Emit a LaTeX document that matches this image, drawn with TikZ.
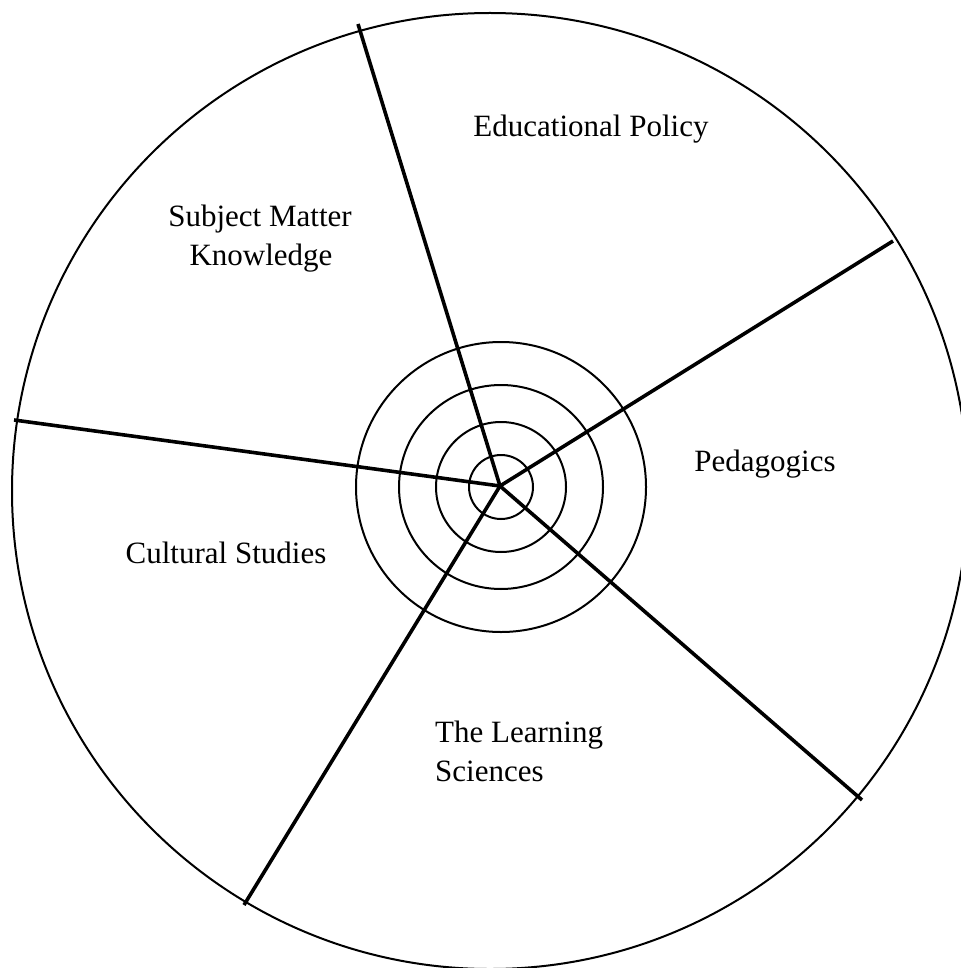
\documentclass[tikz,border=0pt]{standalone}
\usepackage{fontspec}
\setmainfont{Liberation Serif}
\begin{document}
\begin{tikzpicture}[x=1pt,y=-1pt,
  rim/.style={line width=2pt},
  ring/.style={line width=2pt},
  spoke/.style={line width=3.6pt},
  lbl/.style={font=\fontsize{31}{37}\selectfont, inner sep=0pt, anchor=base},
  lblw/.style={lbl, anchor=base west}]
\useasboundingbox (0,0) rectangle (960,968);
% outer wheel
\draw[rim] (490,491) circle[radius=478pt];
% hub and concentric rings
\coordinate (hub) at (500,486);
\coordinate (ringc) at (501,487);
\foreach \r in {32,65,102,145}
  \draw[ring] (ringc) circle[radius=\r pt];
% spoke ends on the rim
\coordinate (pTop) at (358,24);
\coordinate (pRight) at (893,241);
\coordinate (pLeft) at (14,420);
\coordinate (pLowL) at (244,905);
\coordinate (pLowR) at (862,800);
\foreach \p in {pTop,pRight,pLeft,pLowL,pLowR}
  \draw[spoke] (hub) -- (\p);
% sector labels
\node[lbl] (edu) at (591,137) {Educational Policy};
\node[lbl] (smk1) at (260,227) {Subject Matter};
\node[lbl] (smk2) at (261,265) {Knowledge};
\node[lbl] (ped) at (765,471) {Pedagogics};
\node[lbl] (cult) at (226,563) {Cultural Studies};
\node[lblw] (ls1) at (435,742) {The Learning};
\node[lblw] (ls2) at (435,781) {Sciences};
\end{tikzpicture}
\end{document}
